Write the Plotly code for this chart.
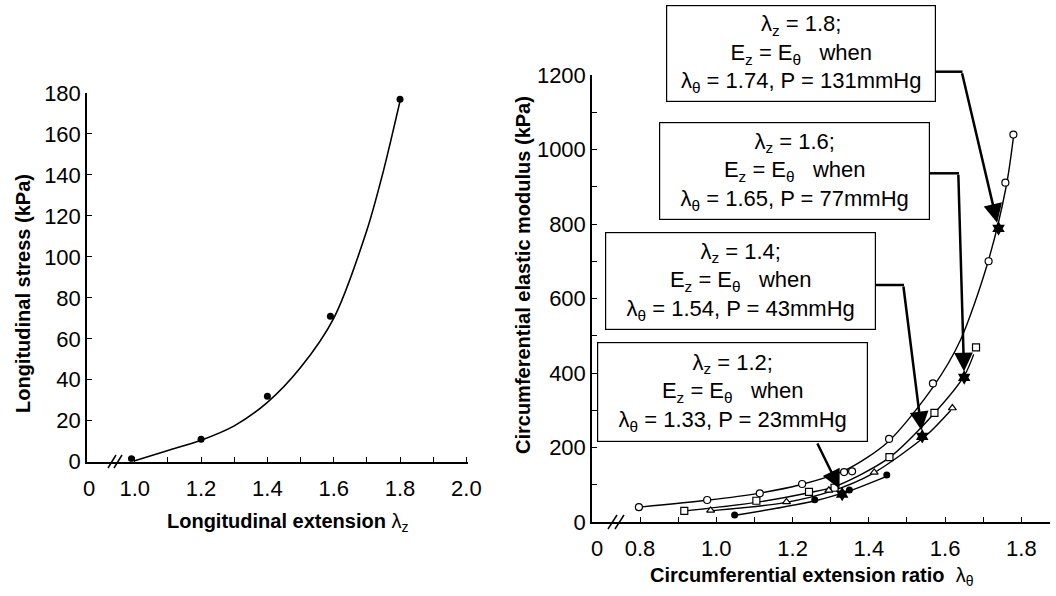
import plotly.graph_objects as go

# ---------------- data ----------------
# Left panel: longitudinal stress vs longitudinal extension
lz_pts_x = [0.99, 1.20, 1.40, 1.59, 1.80]
lz_pts_y = [1.5, 11, 32, 71, 177]
lz_fit_x = [1.00, 1.10, 1.20, 1.30, 1.40, 1.50, 1.60, 1.70, 1.75, 1.80]
lz_fit_y = [0.5, 5.5, 10.5, 17.5, 29, 46, 70, 113, 142, 176]

# Right panel: circumferential elastic modulus vs circumferential extension ratio
# lambda_z = 1.8 (open circles)
c18_x = [0.797, 0.976, 1.114, 1.225, 1.335, 1.356, 1.453, 1.568, 1.714, 1.758, 1.779]
c18_y = [40, 59, 77, 102, 134, 136, 223, 372, 700, 911, 1040]
c18_fit_x = [0.80, 0.98, 1.11, 1.22, 1.34, 1.45, 1.57, 1.64, 1.71, 1.76, 1.78]
c18_fit_y = [40, 59, 77, 100, 140, 215, 365, 488, 690, 900, 1040]
# lambda_z = 1.6 (open squares)
c16_x = [0.916, 1.105, 1.243, 1.31, 1.454, 1.572, 1.681]
c16_y = [30, 57, 81, 92, 174, 293, 469]
c16_fit_x = [0.92, 1.10, 1.24, 1.31, 1.45, 1.57, 1.65, 1.675]
c16_fit_y = [30, 52, 78, 95, 170, 290, 392, 450]
# lambda_z = 1.4 (open triangles)
c14_x = [0.985, 1.184, 1.295, 1.414, 1.619]
c14_y = [31, 54, 85, 133, 306]
c14_fit_x = [0.985, 1.18, 1.30, 1.41, 1.55, 1.615]
c14_fit_y = [30, 52, 82, 130, 232, 300]
# lambda_z = 1.2 (filled circles)
c12_x = [1.048, 1.258, 1.349, 1.447]
c12_y = [19, 60, 86, 126]
c12_fit_x = [1.05, 1.26, 1.35, 1.45]
c12_fit_y = [18, 57, 84, 124]
# points where E_z = E_theta (lambda_z = 1.2, 1.4, 1.6, 1.8)
star_x = [1.33, 1.54, 1.65, 1.74]
star_y = [75, 230, 388, 788]

left_xticks = [1.0, 1.1, 1.2, 1.3, 1.4, 1.5, 1.6, 1.7, 1.8, 1.9, 2.0]
left_xtext = ["1.0", "", "1.2", "", "1.4", "", "1.6", "", "1.8", "", "2.0"]
left_yticks = [0, 20, 40, 60, 80, 100, 120, 140, 160, 180]
right_xticks = [0.8, 0.9, 1.0, 1.1, 1.2, 1.3, 1.4, 1.5, 1.6, 1.7, 1.8]
right_xtext = ["0.8", "", "1.0", "", "1.2", "", "1.4", "", "1.6", "", "1.8"]
right_yticks = list(range(0, 1201, 100))
right_ytext = [str(v) if v % 200 == 0 else "" for v in right_yticks]

# box texts, same order as star points (lambda_z = 1.2 ... 1.8)
box_texts = [
    "λ<sub>z</sub> = 1.2;<br>E<sub>z</sub> = E<sub>θ</sub>   when<br>λ<sub>θ</sub> = 1.33, P = 23mmHg",
    "λ<sub>z</sub> = 1.4;<br>E<sub>z</sub> = E<sub>θ</sub>   when<br>λ<sub>θ</sub> = 1.54, P = 43mmHg",
    "λ<sub>z</sub> = 1.6;<br>E<sub>z</sub> = E<sub>θ</sub>   when<br>λ<sub>θ</sub> = 1.65, P = 77mmHg",
    "λ<sub>z</sub> = 1.8;<br>E<sub>z</sub> = E<sub>θ</sub>   when<br>λ<sub>θ</sub> = 1.74, P = 131mmHg",
]

# ---------------- figure ----------------
W, H = 1056, 596
FONT = "Liberation Sans, Arial, Helvetica, sans-serif"


def px(x):
    return x / W


def py(y):
    return 1 - y / H


fig = go.Figure()

line_style = dict(color="black", width=1.4, shape="spline", smoothing=0.8)

# left panel
fig.add_trace(go.Scatter(x=lz_fit_x, y=lz_fit_y, mode="lines", line=dict(color="black", width=1.6, shape="spline", smoothing=0.8),
                         xaxis="x", yaxis="y", showlegend=False, hoverinfo="skip"))
fig.add_trace(go.Scatter(x=lz_pts_x, y=lz_pts_y, mode="markers", marker=dict(symbol="circle", size=7, color="black"),
                         xaxis="x", yaxis="y", showlegend=False))

# right panel curves
for fx, fy in [(c18_fit_x, c18_fit_y), (c16_fit_x, c16_fit_y), (c14_fit_x, c14_fit_y), (c12_fit_x, c12_fit_y)]:
    fig.add_trace(go.Scatter(x=fx, y=fy, mode="lines", line=line_style, xaxis="x2", yaxis="y2",
                             showlegend=False, hoverinfo="skip"))

open_marker = dict(color="white", line=dict(color="black", width=1.2))
fig.add_trace(go.Scatter(x=c18_x, y=c18_y, mode="markers", name="λz = 1.8",
                         marker=dict(symbol="circle", size=7, **open_marker), xaxis="x2", yaxis="y2", showlegend=False))
fig.add_trace(go.Scatter(x=c16_x, y=c16_y, mode="markers", name="λz = 1.6",
                         marker=dict(symbol="square", size=7, **open_marker), xaxis="x2", yaxis="y2", showlegend=False))
fig.add_trace(go.Scatter(x=c14_x, y=c14_y, mode="markers", name="λz = 1.4",
                         marker=dict(symbol="triangle-up", size=7, **open_marker), xaxis="x2", yaxis="y2", showlegend=False))
fig.add_trace(go.Scatter(x=c12_x, y=c12_y, mode="markers", name="λz = 1.2",
                         marker=dict(symbol="circle", size=7, color="black"), xaxis="x2", yaxis="y2", showlegend=False))
fig.add_trace(go.Scatter(x=star_x, y=star_y, mode="markers", name="Ez = Eθ",
                         marker=dict(symbol="hexagram", size=11, color="black"), xaxis="x2", yaxis="y2", showlegend=False))

axis_common = dict(showline=True, linecolor="black", linewidth=1.5, ticks="inside", ticklen=5, tickwidth=1,
                   tickcolor="black", showgrid=False, zeroline=False, automargin=False,
                   tickfont=dict(family=FONT, size=22, color="black"))

fig.update_layout(
    width=W, height=H, autosize=False,
    margin=dict(l=0, r=0, t=0, b=0, pad=0, autoexpand=False),
    showlegend=False,
    paper_bgcolor="white", plot_bgcolor="white",
    font=dict(family=FONT, color="black"),
    xaxis=dict(domain=[px(87), px(468)], range=[0.856, 2.005], anchor="y",
               tickmode="array", tickvals=left_xticks, ticktext=left_xtext, ticklabelstandoff=6, **axis_common),
    yaxis=dict(domain=[py(461.7), py(93)], range=[0, 180], anchor="x",
               tickmode="array", tickvals=left_yticks, ticktext=[str(v) for v in left_yticks], **axis_common),
    xaxis2=dict(domain=[px(592), px(1050)], range=[0.674, 1.875], anchor="y2",
                tickmode="array", tickvals=right_xticks, ticktext=right_xtext, ticklabelstandoff=6, **axis_common),
    yaxis2=dict(domain=[py(522), py(75)], range=[0, 1200], anchor="x2",
                tickmode="array", tickvals=right_yticks, ticktext=right_ytext, **axis_common),
)

annotations = []
title_font = dict(family=FONT, size=20, color="black")
# axis titles
annotations.append(dict(text="<b>Longitudinal stress (kPa)</b>", x=px(23), y=py(294), xref="paper", yref="paper",
                        textangle=-90, showarrow=False, font=title_font, xanchor="center", yanchor="middle"))
annotations.append(dict(text="<b>Longitudinal extension</b> λ<sub>z</sub>", x=px(287), y=py(522), xref="paper", yref="paper",
                        showarrow=False, font=title_font, xanchor="center", yanchor="middle"))
annotations.append(dict(text="<b>Circumferential elastic modulus (kPa)</b>", x=px(523), y=py(275), xref="paper", yref="paper",
                        textangle=-90, showarrow=False, font=title_font, xanchor="center", yanchor="middle"))
annotations.append(dict(text="<b>Circumferential extension ratio</b>  λ<sub>θ</sub>", x=px(812), y=py(576), xref="paper", yref="paper",
                        showarrow=False, font=title_font, xanchor="center", yanchor="middle"))
# origin "0" labels of broken x axes
tick_font = dict(family=FONT, size=22, color="black")
annotations.append(dict(text="0", x=px(89), y=py(488), xref="paper", yref="paper", showarrow=False, font=tick_font,
                        xanchor="center", yanchor="middle"))
annotations.append(dict(text="0", x=px(597), y=py(548), xref="paper", yref="paper", showarrow=False, font=tick_font,
                        xanchor="center", yanchor="middle"))

# text boxes (center x, center y, width, height in px), order lambda_z = 1.2 ... 1.8
boxes = [(732.5, 392.5, 269, 98), (740.5, 281, 269, 96), (794.5, 171, 269, 96), (801, 53.5, 268, 95)]
for (cx, cy, bw, bh), txt in zip(boxes, box_texts):
    annotations.append(dict(text=txt, x=px(cx), y=py(cy), xref="paper", yref="paper", showarrow=False,
                            xanchor="center", yanchor="middle", width=bw, height=bh, align="center", valign="middle",
                            bgcolor="white", bordercolor="black", borderwidth=1.2, borderpad=0,
                            font=dict(family=FONT, size=22, color="black")))

# arrows to the E_z = E_theta points (pixel offsets of the arrow tails), order lambda_z = 1.2 ... 1.8
arrow_offsets = [(-25.5, -52.1), (-19.0, -151.3), (-5.9, -204.2), (-36.8, -156.8)]
for sx, sy, (ax, ay) in zip(star_x, star_y, arrow_offsets):
    annotations.append(dict(text="", x=sx, y=sy, xref="x2", yref="y2", ax=ax, ay=ay, showarrow=True,
                            arrowhead=2, arrowsize=1.5, arrowwidth=2.5, arrowcolor="black", standoff=6))
fig.update_layout(annotations=annotations)

# horizontal arrow segments leaving the boxes
shapes = []
for (x0, x1, y) in [(935, 962.5, 71.7), (929, 959, 173.3), (875, 904, 285)]:
    shapes.append(dict(type="line", xref="paper", yref="paper", x0=px(x0), x1=px(x1), y0=py(y), y1=py(y),
                       line=dict(color="black", width=2.5)))
# axis break marks
for (x0, y0, x1, y1) in [(108, 468, 116, 455), (114, 468, 122, 455), (608, 529, 617, 515), (615, 529, 624, 515)]:
    shapes.append(dict(type="line", xref="paper", yref="paper", x0=px(x0), y0=py(y0), x1=px(x1), y1=py(y1),
                       line=dict(color="black", width=1.5)))
fig.update_layout(shapes=shapes)

fig.write_html("out.html")
